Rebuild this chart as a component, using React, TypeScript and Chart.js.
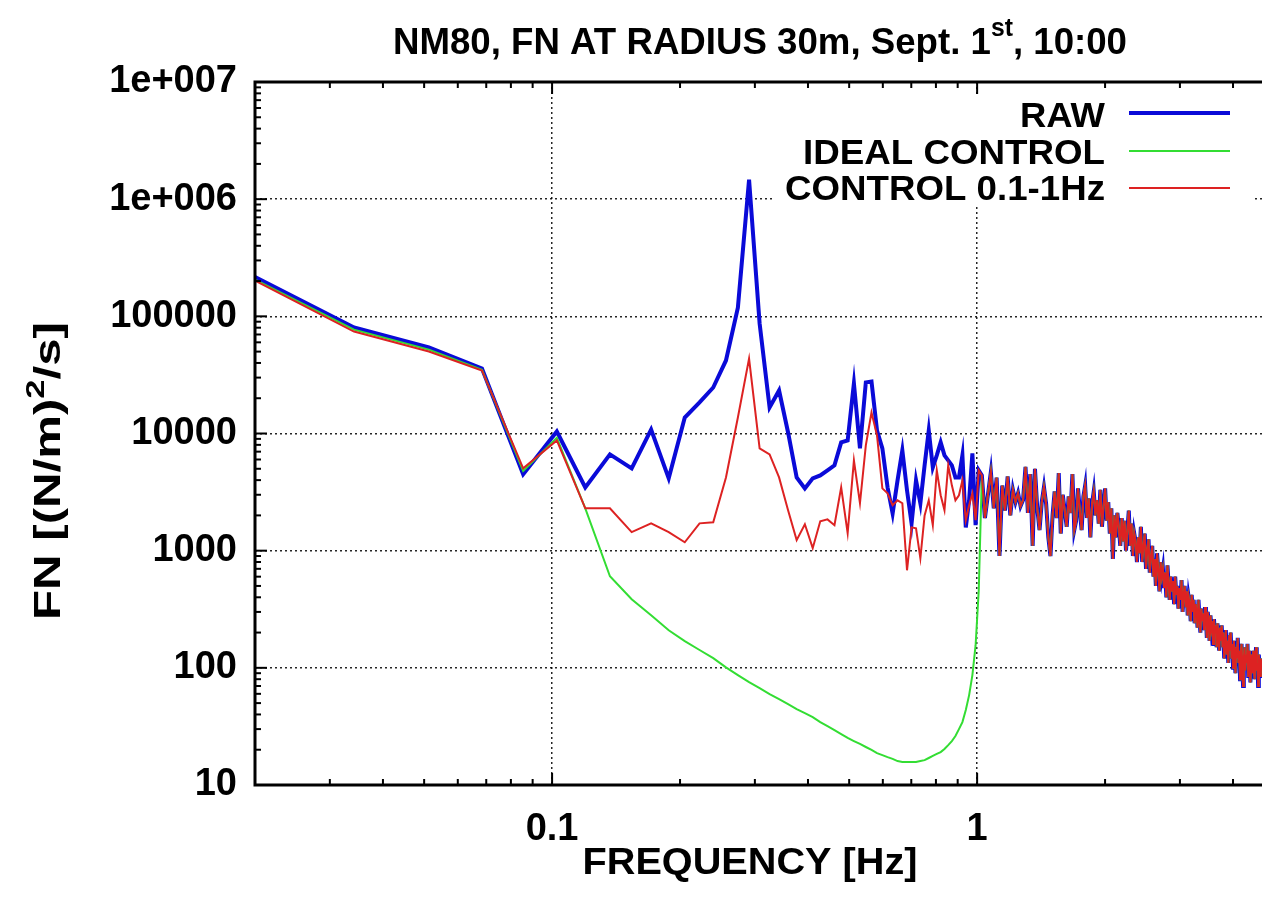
import React, { useEffect, useRef } from "react";
import { Chart, registerables } from "chart.js";

Chart.register(...registerables);

// spectral line spacing of the FFT (Hz)
const FREQ_STEP = 0.0171;
const X_MIN = 0.02;
const X_MAX = 4.68;
const Y_MIN = 10;
const Y_MAX = 1e7;

// values for lines 1..59 (below 1 Hz)
const rawLow = [
  290000, 80400, 54200, 35900, 4480, 10400, 3470, 6640, 5040, 10800,
  4140, 13700, 18400, 24700, 42000, 118800, 1470000, 86900, 16700, 23300,
  10200, 4220, 3400, 4140, 4390, 4850, 5350, 8400, 8730, 26800,
  7470, 27300, 27800, 10600, 7470, 3470, 2080, 3980, 7180, 3270,
  1710, 3980, 2540, 5350, 10600, 5140, 6510, 8400, 6510, 5900,
  5350, 4220, 4220, 6510, 1580, 2690, 6770, 1650, 4850,
];
const idealLow = [
  275000, 77000, 52000, 35000, 4780, 9200, 2300, 605, 385, 281,
  209, 169, 142, 121, 101, 86.7, 75.5, 67.1, 59.7, 54.1,
  49.1, 44.5, 41.1, 38.0, 34.4, 31.8, 29.4, 27.2, 25.2, 23.7,
  22.4, 21.1, 19.9, 18.7, 18.0, 17.3, 16.7, 16.0, 15.7, 15.7,
  15.7, 15.7, 16.0, 16.3, 17.0, 17.7, 18.4, 19.1, 20.3, 21.9,
  23.7, 26.2, 30.0, 34.4, 43.6, 58.5, 86.7, 156, 459,
];
const controlLow = [
  270000, 74200, 50100, 34500, 5040, 8730, 2300, 2300, 1440, 1710,
  1440, 1180, 1710, 1750, 4220, 13700, 43600, 7470, 6640, 4220,
  2210, 1230, 1680, 1050, 1780, 1850, 1650, 3470, 1410, 5900,
  2540, 7920, 15100, 9640, 3400, 3090, 2440, 2690, 2540, 680,
  1580, 1550, 861, 2000, 2690, 1650, 4850, 2970, 2210, 5350,
  3610, 2690, 2970, 3980, 1820, 2440, 3090, 1820, 4850,
];
// values for lines 60..274 (above 1 Hz, all three curves coincide)
const above1Hz = [
  4400, 1900, 3000, 4700, 2300, 4200, 900, 3600, 2200, 4300,
  2000, 3300, 2600, 3100, 2400, 2700, 5200, 2100, 4500, 1100,
  5000, 2300, 1500, 2600, 3500, 2500, 1300, 900, 2000, 3200,
  1900, 4600, 1400, 3000, 2200, 1600, 2900, 2100, 4500, 1500,
  1800, 3400, 2200, 1500, 2900, 3600, 1900, 2800, 1300, 2500,
  3200, 2000, 2700, 1700, 3300, 1600, 2400, 3400, 1800, 2600,
  1400, 2300, 850, 2000, 1300, 2100, 1600, 1100, 1900, 1200,
  1800, 1000, 1500, 2200, 1100, 1700, 900, 1400, 1200, 800,
  1300, 950, 1600, 800, 1100, 1400, 700, 1000, 1250, 650,
  900, 1100, 600, 850, 500, 950, 700, 450, 800, 600,
  700, 480, 650, 400, 750, 520, 380, 600, 450, 550,
  350, 600, 420, 500, 320, 480, 380, 560, 300, 420,
  500, 330, 450, 280, 400, 350, 250, 420, 300, 380,
  240, 350, 300, 220, 380, 270, 200, 320, 250, 290,
  210, 330, 260, 180, 300, 240, 170, 280, 220, 250,
  160, 260, 200, 230, 150, 240, 190, 140, 220, 170,
  230, 150, 200, 120, 180, 210, 130, 170, 110, 190,
  140, 200, 120, 160, 100, 170, 130, 90, 150, 120,
  180, 110, 140, 80, 130, 160, 100, 70, 120, 150,
  95, 130, 110, 160, 85, 120, 140, 75, 110, 130,
  90, 140, 100, 80, 120, 150, 95, 110, 70, 130, 100, 85, 120, 95, 110,
];

const xTickValues = [0.1, 1];
const xTickLabels = ["0.1", "1"];
const yTickValues = [10, 100, 1000, 10000, 100000, 1000000, 10000000];
const yTickLabels = ["10", "100", "1000", "10000", "100000", "1e+006", "1e+007"];

const seriesNames = ["RAW", "IDEAL CONTROL", "CONTROL 0.1-1Hz"];
const seriesColors = ["#0a0ad8", "#33dd33", "#dd2222"];
const seriesWidths = [4, 2, 2];

const titleMain = "NM80, FN AT RADIUS 30m, Sept. 1";
const titleSup = "st";
const titleTail = ", 10:00";
const xTitle = "FREQUENCY [Hz]";
const yTitleMain = "FN [(N/m)";
const yTitleSup = "2";
const yTitleTail = "/s]";

const FONT = "'Liberation Sans', Arial, Helvetica, sans-serif";

const toPoints = (vals: number[]) =>
  vals.map((v, i) => ({ x: (i + 1) * FREQ_STEP, y: v }));

type Piece = { text: string; size: number; dy: number };

function drawPieces(
  ctx: CanvasRenderingContext2D,
  pieces: Piece[],
  x: number,
  y: number,
  align: "left" | "center" | "right",
  targetWidth?: number
) {
  ctx.save();
  ctx.textBaseline = "alphabetic";
  ctx.textAlign = "left";
  ctx.fillStyle = "#000";
  const widths = pieces.map((p) => {
    ctx.font = `bold ${p.size}px ${FONT}`;
    return ctx.measureText(p.text).width;
  });
  const natural = widths.reduce((a, b) => a + b, 0);
  const w = targetWidth ?? natural;
  const s = w / natural;
  const start = align === "center" ? x - w / 2 : align === "right" ? x - w : x;
  ctx.translate(start, y);
  ctx.scale(s, 1);
  let cx = 0;
  pieces.forEach((p, i) => {
    ctx.font = `bold ${p.size}px ${FONT}`;
    ctx.fillText(p.text, cx, p.dy);
    cx += widths[i];
  });
  ctx.restore();
}

const decorPlugin = {
  id: "decor",
  beforeDatasetsDraw(chart: any) {
    const ctx = chart.ctx as CanvasRenderingContext2D;
    ctx.save();
    ctx.fillStyle = "#ffffff";
    ctx.fillRect(773, 95, 480, 112);
    ctx.restore();
  },
  afterDatasetsDraw(chart: any) {
    const ctx = chart.ctx as CanvasRenderingContext2D;
    const a = chart.chartArea;
    const xs = chart.scales.x;
    const ys = chart.scales.y;
    ctx.save();
    // frame
    ctx.strokeStyle = "#000";
    ctx.lineWidth = 3;
    ctx.beginPath();
    ctx.moveTo(a.right + 10, a.top);
    ctx.lineTo(a.left, a.top);
    ctx.lineTo(a.left, a.bottom);
    ctx.lineTo(a.right + 10, a.bottom);
    ctx.stroke();

    // tick marks
    ctx.lineWidth = 2;
    const major = 12;
    const minor = 6;
    const yTick = (v: number, len: number) => {
      const py = ys.getPixelForValue(v);
      ctx.beginPath();
      ctx.moveTo(a.left, py);
      ctx.lineTo(a.left + len, py);
      ctx.stroke();
    };
    const xTick = (v: number, len: number) => {
      const px = xs.getPixelForValue(v);
      ctx.beginPath();
      ctx.moveTo(px, a.bottom);
      ctx.lineTo(px, a.bottom - len);
      ctx.moveTo(px, a.top);
      ctx.lineTo(px, a.top + len);
      ctx.stroke();
    };
    yTickValues.forEach((v) => yTick(v, major));
    for (let d = Y_MIN; d < Y_MAX; d *= 10) {
      for (let m = 2; m <= 9; m++) yTick(m * d, minor);
    }
    xTickValues.forEach((v) => xTick(v, major));
    for (let d = 0.01; d < X_MAX; d *= 10) {
      for (let m = 2; m <= 9; m++) {
        const v = m * d;
        if (v > X_MIN * 1.001 && v < X_MAX) xTick(v, minor);
      }
    }
    ctx.restore();

    // legend
    const legendBase = [127, 164, 200];
    const legendLineY = [113, 151, 188];
    const legendWidths = [85, 302, 320];
    seriesNames.forEach((name, i) => {
      drawPieces(ctx, [{ text: name, size: 35, dy: 0 }], 1105, legendBase[i], "right", legendWidths[i]);
      ctx.save();
      ctx.strokeStyle = seriesColors[i];
      ctx.lineWidth = seriesWidths[i];
      ctx.beginPath();
      ctx.moveTo(1129, legendLineY[i]);
      ctx.lineTo(1230, legendLineY[i]);
      ctx.stroke();
      ctx.restore();
    });

    // title
    drawPieces(
      ctx,
      [
        { text: titleMain, size: 37, dy: 0 },
        { text: titleSup, size: 25, dy: -18 },
        { text: titleTail, size: 37, dy: 0 },
      ],
      760,
      54,
      "center",
      734
    );

    // x title
    drawPieces(ctx, [{ text: xTitle, size: 37, dy: 0 }], 750, 874, "center", 335);

    // y title
    ctx.save();
    ctx.translate(60, 471);
    ctx.rotate(-Math.PI / 2);
    drawPieces(
      ctx,
      [
        { text: yTitleMain, size: 37, dy: 0 },
        { text: yTitleSup, size: 26, dy: -16 },
        { text: yTitleTail, size: 37, dy: 0 },
      ],
      0,
      0,
      "center",
      298
    );
    ctx.restore();
  },
};

export default function App() {
  const canvasRef = useRef<HTMLCanvasElement | null>(null);

  useEffect(() => {
    const canvas = canvasRef.current;
    if (!canvas) return;
    const lows = [rawLow, idealLow, controlLow];
    const orders = [3, 2, 1];
    const chart = new Chart(canvas, {
      type: "line",
      data: {
        datasets: seriesNames.map((name, i) => ({
          label: name,
          data: toPoints([...lows[i], ...above1Hz]),
          borderColor: seriesColors[i],
          backgroundColor: seriesColors[i],
          borderWidth: seriesWidths[i],
          pointRadius: 0,
          tension: 0,
          fill: false,
          order: orders[i],
          borderJoinStyle: "miter" as const,
        })),
      },
      options: {
        animation: false,
        responsive: false,
        maintainAspectRatio: false,
        layout: { padding: { top: 82, left: 0, right: 0, bottom: 0 } },
        plugins: {
          legend: { display: false },
          tooltip: { enabled: false },
          title: { display: false },
        },
        scales: {
          x: {
            type: "logarithmic",
            min: X_MIN,
            max: X_MAX,
            afterBuildTicks: (s: any) => {
              s.ticks = xTickValues.map((v) => ({ value: v }));
            },
            afterFit: (s: any) => {
              s.height = 115;
            },
            ticks: {
              autoSkip: false,
              maxRotation: 0,
              padding: 22,
              color: "#000",
              font: { family: FONT, size: 38, weight: "bold" },
              callback: (v: any) => {
                const i = xTickValues.findIndex((t) => Math.abs(t - Number(v)) < 1e-9);
                return i >= 0 ? xTickLabels[i] : "";
              },
            },
            grid: { color: "rgba(0,0,0,0.85)", lineWidth: 1.5, drawTicks: false },
            border: { display: false, dash: [2, 3] },
          },
          y: {
            type: "logarithmic",
            min: Y_MIN,
            max: Y_MAX,
            afterBuildTicks: (s: any) => {
              s.ticks = yTickValues.map((v) => ({ value: v }));
            },
            afterFit: (s: any) => {
              s.width = 255;
            },
            ticks: {
              autoSkip: false,
              padding: 18,
              color: "#000",
              font: { family: FONT, size: 38, weight: "bold" },
              callback: (v: any) => {
                const i = yTickValues.findIndex((t) => Math.abs(t - Number(v)) / t < 1e-9);
                return i >= 0 ? yTickLabels[i] : "";
              },
            },
            grid: { color: "rgba(0,0,0,0.85)", lineWidth: 1.5, drawTicks: false },
            border: { display: false, dash: [2, 3] },
          },
        },
      },
      plugins: [decorPlugin],
    } as any);
    return () => chart.destroy();
  }, []);

  return (
    <div style={{ position: "absolute", left: 0, top: 0, width: 1262, height: 900, background: "#fff", overflow: "hidden" }}>
      <canvas ref={canvasRef} width={1262} height={900} style={{ display: "block", width: 1262, height: 900 }} />
    </div>
  );
}
